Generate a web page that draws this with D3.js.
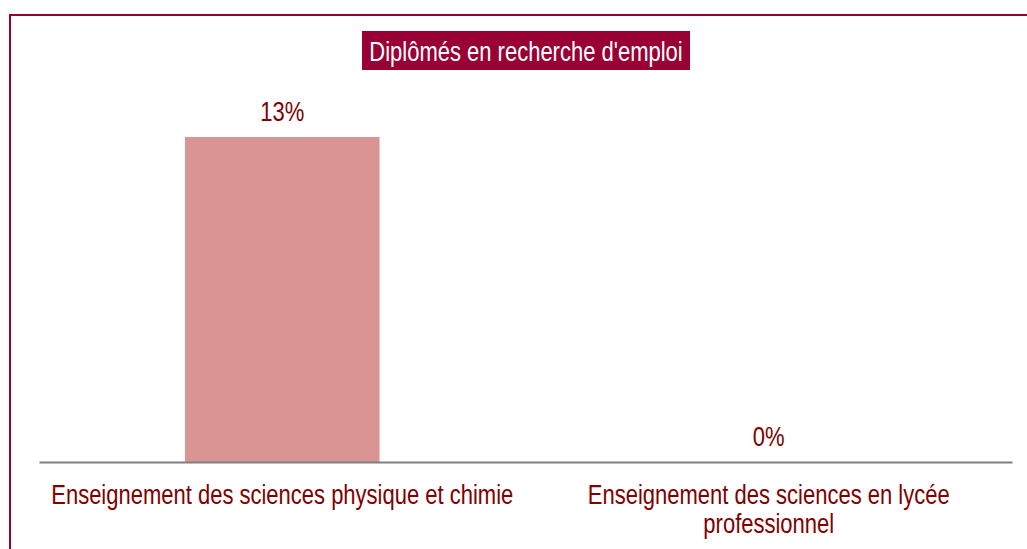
<!DOCTYPE html>
<html>
<head>
<meta charset="utf-8">
<script src="https://cdn.jsdelivr.net/npm/d3@7"></script>
<style>
    body { margin: 0; background: #fff; }
    svg { display: block; font-family: "Liberation Sans", Arial, sans-serif; }
</style>
</head>
<body>
<div id="graph"></div>
<script>
var title = "Diplômés en recherche d'emploi";
var categories = [
    'Enseignement des sciences physique et chimie',
    'Enseignement des sciences en lycée professionnel'
];
var categoryLines = [
    ['Enseignement des sciences physique et chimie'],
    ['Enseignement des sciences en lycée', 'professionnel']
];
var values = [13, 0];
var valueLabels = ['13%', '0%'];

var border = '#990033';
var barColor = '#d99594';
var textColor = '#800000';

var width = 1027,
    height = 549;

// the original text is tall and narrow
var fontSize = 27,
    squeeze = 0.815;

var svg = d3.select('#graph')
    .append('svg')
        .attr('width', width)
        .attr('height', height);

// frame
svg.append('rect')
    .attr('x', 10)
    .attr('y', 15)
    .attr('width', 1040)
    .attr('height', 560)
    .attr('fill', 'none')
    .attr('stroke', border)
    .attr('stroke-width', 2);

var x = d3.scaleBand()
    .domain(categories)
    .range([39, 1012])
    .paddingInner(0.6)
    .paddingOuter(0.3);

var y = d3.scaleLinear()
    .domain([0, 13])
    .range([462, 137]);

// bars
svg.append('g')
    .selectAll('rect')
    .data(values).enter().append('rect')
    .attr('x', function(d, i) { return x(categories[i]); })
    .attr('y', function(d) { return y(d); })
    .attr('width', x.bandwidth())
    .attr('height', function(d) { return y(0) - y(d); })
    .attr('fill', barColor);

// axis line
var axis = svg.append('g')
    .attr('transform', 'translate(0,' + y(0) + ')')
    .call(d3.axisBottom(x).tickSize(0).tickFormat(''));
axis.select('.domain')
    .attr('stroke', '#808080')
    .attr('stroke-width', 2);

function place(cx, cy) {
    return 'translate(' + cx + ',' + cy + ') scale(' + squeeze + ',1)';
}

// value labels
svg.append('g')
    .selectAll('text')
    .data(values).enter().append('text')
    .attr('transform', function(d, i) {
        return place(x(categories[i]) + x.bandwidth() / 2, y(d) - 16);
    })
    .attr('text-anchor', 'middle')
    .attr('font-size', fontSize)
    .attr('fill', textColor)
    .text(function(d, i) { return valueLabels[i]; });

// category labels
var cats = svg.append('g')
    .selectAll('text')
    .data(categories).enter().append('text')
    .attr('transform', function(d) { return place(x(d) + x.bandwidth() / 2, y(0) + 42); })
    .attr('text-anchor', 'middle')
    .attr('font-size', fontSize)
    .attr('fill', textColor);
cats.selectAll('tspan')
    .data(function(d, i) { return categoryLines[i]; }).enter().append('tspan')
    .attr('x', 0)
    .attr('dy', function(d, i) { return i === 0 ? 0 : 29; })
    .text(function(d) { return d; });

// title box
svg.append('rect')
    .attr('x', 362)
    .attr('y', 31)
    .attr('width', 328)
    .attr('height', 39)
    .attr('fill', border);
svg.append('text')
    .attr('transform', place(526, 61))
    .attr('text-anchor', 'middle')
    .attr('font-size', fontSize)
    .attr('fill', '#fff')
    .text(title);
</script>
</body>
</html>
